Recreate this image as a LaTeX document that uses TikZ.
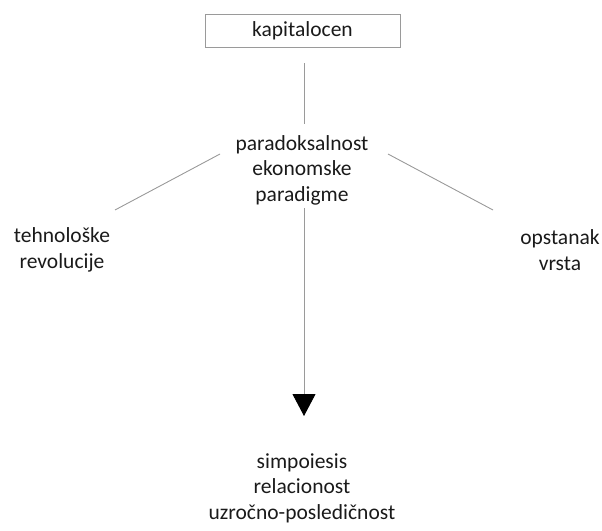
\documentclass[tikz,border=0pt]{standalone}
\usepackage{fontspec}
\setmainfont{Carlito}
\usetikzlibrary{arrows.meta}
\definecolor{linegray}{HTML}{9A9A9A}
\definecolor{txt}{HTML}{1A1A1A}
\begin{document}
\begin{tikzpicture}[x=1pt,y=-1pt,
  lbl/.style={align=center,text=txt,font=\fontsize{21.5}{25.5}\selectfont,inner sep=0pt},
  conn/.style={draw=linegray,line width=0.9pt},
  boxed/.style={lbl,draw=linegray,line width=0.9pt,minimum width=195pt,minimum height=33pt}]
\useasboundingbox (0,0) rectangle (602,530);
\node[boxed] (kap) at (302.5,30.5) {kapitalocen};
\node[lbl] (par) at (302,170) {paradoksalnost\\ekonomske\\paradigme};
\node[lbl] (teh) at (62,250) {tehnološke\\revolucije};
\node[lbl] (ops) at (560,250) {opstanak\\vrsta};
\node[lbl] (sim) at (302,488) {simpoiesis\\relacionost\\uzročno-posledičnost};
\coordinate (pl) at (220,154);
\coordinate (tl) at (115,210);
\coordinate (pr) at (388,154);
\coordinate (or) at (493,210);
\coordinate (ktop) at (304,63);
\coordinate (kbot) at (304,124);
\coordinate (astart) at (304,208);
\coordinate (atip) at (304,416);
\draw[conn] (ktop) -- (kbot);
\draw[conn] (pl) -- (tl);
\draw[conn] (pr) -- (or);
\draw[conn,-{Triangle[width=23pt,length=22pt,fill=black,color=black]}] (astart) -- (atip);
\end{tikzpicture}
\end{document}
